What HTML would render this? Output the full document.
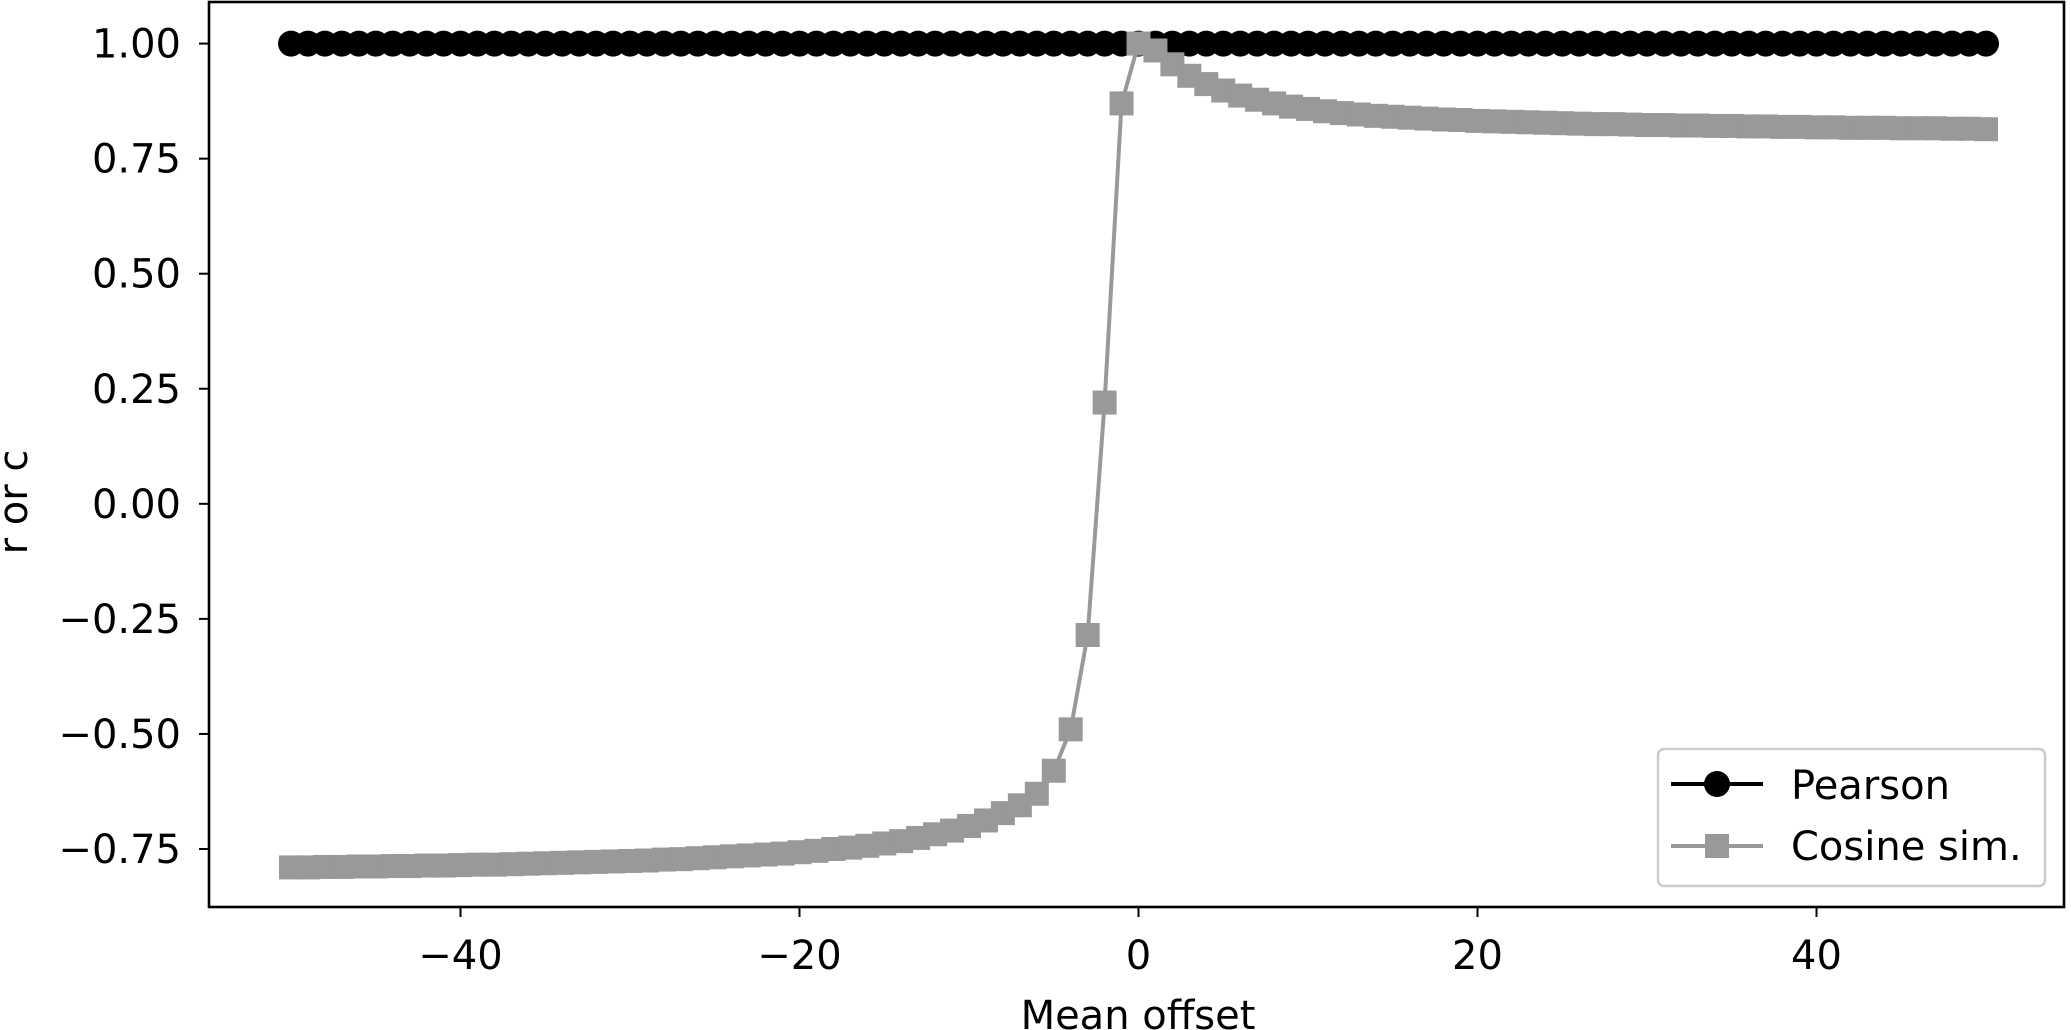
<!DOCTYPE html>
<html><head><meta charset="utf-8"><style>
html,body{margin:0;padding:0;background:#fff;}
svg{display:block;font-family:"DejaVu Sans","Liberation Sans",sans-serif;}
</style></head><body>
<svg id="chart" width="2071" height="1030" viewBox="0 0 2071 1030" xmlns="http://www.w3.org/2000/svg">
<rect x="0" y="0" width="2071" height="1030" fill="#fff"/>
<g id="plot"></g>
<g id="axes"></g>
<text x="1138" y="1029" font-size="40" text-anchor="middle">Mean offset</text>
<text transform="translate(27,502) rotate(-90)" font-size="40" text-anchor="middle">r or c</text>
<g>
<rect x="1658" y="749" width="387" height="137" rx="6" fill="#fff" stroke="#ccc" stroke-width="2.5"/>
<g>
<line x1="1671" y1="784" x2="1763" y2="784" stroke="#000" stroke-width="4"/>
<circle cx="1717" cy="784" r="13" fill="#000"/>
<text x="1791" y="799" font-size="40">Pearson</text>
</g>
<g>
<line x1="1671" y1="846" x2="1763" y2="846" stroke="#999" stroke-width="4"/>
<rect x="1705" y="834" width="24" height="24" fill="#999"/>
<text x="1791" y="860" font-size="40">Cosine sim.</text>
</g>
</g>
</svg>
<script>
const offsets = [];
for (let m = -50; m <= 50; m++) offsets.push(m);
const pearson = offsets.map(() => 1.0);
const cosine = [
-0.790,-0.790,-0.789,-0.789,-0.788,-0.788,-0.787,-0.787,-0.786,-0.786,
-0.785,-0.784,-0.784,-0.783,-0.782,-0.781,-0.780,-0.779,-0.778,-0.777,
-0.776,-0.775,-0.773,-0.772,-0.770,-0.768,-0.766,-0.764,-0.762,-0.760,
-0.757,-0.754,-0.750,-0.747,-0.743,-0.738,-0.733,-0.726,-0.718,-0.710,
-0.700,-0.688,-0.672,-0.655,-0.630,-0.580,-0.490,-0.285,0.220,0.870,
1.000,
0.985,0.955,0.930,0.912,0.898,0.887,0.878,0.870,0.863,0.858,
0.853,0.849,0.846,0.843,0.841,0.839,0.837,0.835,0.834,0.832,
0.831,0.830,0.829,0.828,0.827,0.826,0.825,0.825,0.824,0.823,
0.823,0.822,0.822,0.821,0.821,0.820,0.820,0.819,0.819,0.818,
0.818,0.817,0.817,0.817,0.816,0.816,0.816,0.815,0.815,0.814];
const xTicks = [-40,-20,0,20,40];
const xTickLabels = ["\u221240","\u221220","0","20","40"];
const yTicks = [1.0,0.75,0.5,0.25,0,-0.25,-0.5,-0.75];
const yTickLabels = ["1.00","0.75","0.50","0.25","0.00","\u22120.25","\u22120.50","\u22120.75"];

const L=209,R=2064,T=2,B=907;
const X = v => 1138.5 + v*(339/20);
const Y = v => 849 - (v+0.75)*(115.06/0.25);
const NS="http://www.w3.org/2000/svg";
const plot=document.getElementById('plot'), axes=document.getElementById('axes');
function mk(tag, attrs, parent){const e=document.createElementNS(NS,tag);for(const k in attrs)e.setAttribute(k,attrs[k]);parent.appendChild(e);return e;}

const pl = mk('polyline',{points:offsets.map((x,i)=>X(x)+','+Y(pearson[i])).join(' '),fill:'none',stroke:'#000','stroke-width':4},plot);


offsets.forEach((x,i)=>{
  const c=mk('circle',{cx:X(x),cy:Y(pearson[i]),r:13,fill:'#000'},plot);
  
  
});
const cl = mk('polyline',{points:offsets.map((x,i)=>X(x)+','+Y(cosine[i])).join(' '),fill:'none',stroke:'#999','stroke-width':4},plot);


offsets.forEach((x,i)=>{
  const s=mk('rect',{x:X(x)-12,y:Y(cosine[i])-12,width:24,height:24,fill:'#999'},plot);
  
  
});
const fr=mk('rect',{x:L,y:T,width:R-L,height:B-T,fill:'none',stroke:'#000','stroke-width':2.6},axes);


xTicks.forEach((v,i)=>{
  const t=mk('line',{x1:X(v),y1:B,x2:X(v),y2:B+10,stroke:'#000','stroke-width':2},axes);
  
  
  const l=mk('text',{x:X(v),y:B+62,'font-size':40,'text-anchor':'middle'},axes);
  l.textContent=xTickLabels[i];
  
  
});
yTicks.forEach((v,i)=>{
  const t=mk('line',{x1:L-10,y1:Y(v),x2:L,y2:Y(v),stroke:'#000','stroke-width':2},axes);
  
  
  const l=mk('text',{x:L-28,y:Y(v)+14,'font-size':40,'text-anchor':'end'},axes);
  l.textContent=yTickLabels[i];
  
  
});
</script>
</body></html>
